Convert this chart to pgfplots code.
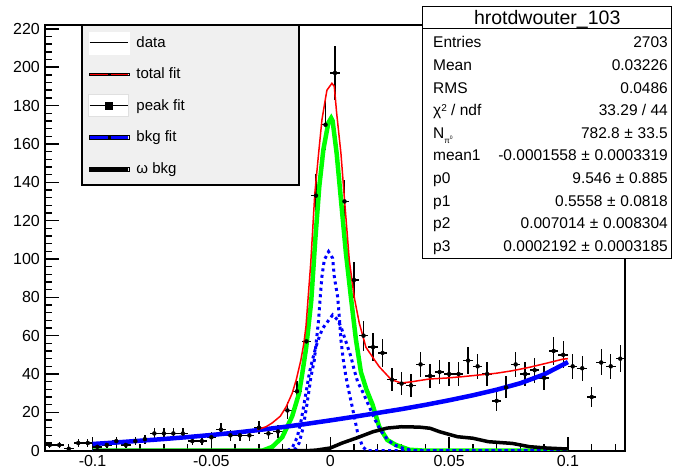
\documentclass[border=0pt]{standalone}
\usepackage{pgfplots}
\pgfplotsset{compat=1.18}
\usepackage{fontspec}
\setmainfont{Liberation Sans}
\definecolor{rootgreen}{RGB}{0,255,0}
\definecolor{legendgray}{RGB}{240,240,240}
\newcommand{\pmx}{\hspace{0.3em}±\hspace{0.3em}}
\begin{document}
\begin{tikzpicture}
\begin{axis}[
  at={(45pt,-450.7pt)}, anchor=south west,
  width=580pt, height=425.7pt, scale only axis,
  xmin=-0.12, xmax=0.124, ymin=0, ymax=222,
  axis line style={line width=1.6pt},
  xtick={-0.1,-0.05,0,0.05,0.1}, xticklabels={-0.1,-0.05,0,0.05,0.1},
  minor xtick={-0.12,-0.11,-0.09,-0.08,-0.07,-0.06,-0.04,-0.03,-0.02,-0.01,0.01,0.02,0.03,0.04,0.06,0.07,0.08,0.09,0.11,0.12},
  ytick={0,20,...,220}, minor ytick={4,8,...,220},
  xtick pos=bottom, ytick pos=left, tick align=inside,
  major tick length=14pt, minor tick length=7pt,
  tick style={line width=1.4pt, black},
  /pgf/number format/assume math mode=true,
  ticklabel style={font=\fontsize{16}{16}\selectfont},
  yticklabel style={anchor=east, inner sep=0pt, xshift=-5pt},
  xticklabel style={anchor=north, inner sep=0pt, yshift=-4.5pt},
  legend cell align=left,
  legend style={at={(0.0741,0.9953)}, anchor=north west, draw=none, fill=none,
    inner sep=0pt, outer sep=0pt, row sep=0pt, column sep=7pt,
    nodes={inner sep=0pt, minimum height=31.5pt},
    font=\fontsize{15}{17}\selectfont},
]
% data
\addplot[forget plot, only marks, mark=none,
  error bars/.cd, x dir=both, x fixed=0.002, y dir=both, y explicit,
  error mark=none, error bar style={draw=black, line width=1.4pt, solid}]
  table[x=x, y=y, y error=e] {
x y e
-0.118 3 1.73
-0.114 3 1.73
-0.110 1 1.00
-0.106 4 2.00
-0.102 4 2.00
-0.098 2 1.41
-0.094 3 1.73
-0.090 5 2.24
-0.086 3 1.73
-0.082 5 2.24
-0.078 6 2.45
-0.074 9 3.00
-0.070 9 3.00
-0.066 9 3.00
-0.062 9 3.00
-0.058 5 2.24
-0.054 5 2.24
-0.050 7 2.65
-0.046 11 3.32
-0.042 8 2.83
-0.038 8 2.83
-0.034 8 2.83
-0.030 12 3.46
-0.026 9 3.00
-0.022 10 3.16
-0.018 21 4.58
-0.014 31 5.57
-0.010 57 7.55
-0.006 133 11.53
-0.002 170 13.04
0.002 197 14.04
0.006 130 11.40
0.010 89 9.43
0.014 60 7.75
0.018 54 7.35
0.022 51 7.14
0.026 37 6.08
0.030 35 5.92
0.034 34 5.83
0.038 45 6.71
0.042 39 6.24
0.046 41 6.40
0.050 40 6.32
0.054 40 6.32
0.058 47 6.86
0.062 44 6.63
0.066 40 6.32
0.070 26 5.10
0.074 33 5.74
0.078 45 6.71
0.082 40 6.32
0.086 42 6.48
0.090 38 6.16
0.094 52 7.21
0.098 50 7.07
0.102 44 6.63
0.106 43 6.56
0.110 28 5.29
0.114 46 6.78
0.118 44 6.63
0.122 48 6.93
};
% peak fit (green)
\addplot[forget plot, rootgreen, line width=4.5pt, mark=none] coordinates {
(-0.1,0)(-0.0286,0)(-0.0244,2)(-0.0202,7)(-0.0160,18)(-0.0131,30)(-0.0118,40)(-0.0101,54)(-0.0080,78)(-0.0063,110)(-0.0046,138)(-0.0029,157)(-0.0008,171)(0.0004,173.5)(0.0010,172)(0.0027,155)(0.0045,131)(0.0066,103)(0.0087,80)(0.0108,58)(0.0129,41)(0.0152,32)(0.0178,24)(0.0206,12.5)(0.0240,5.6)(0.0276,3)(0.0333,0.5)(0.04,0)(0.1,0)};
% component A (dotted)
\addplot[forget plot, blue, line width=3pt, dash pattern=on 3pt off 3.5pt, mark=none] coordinates {
(-0.1,0)(-0.0173,0)(-0.0147,1)(-0.0131,4)(-0.0114,12)(-0.0097,25)(-0.0081,38.6)(-0.0067,47.3)(-0.0058,57.7)(-0.0049,68.2)(-0.0042,80.3)(-0.0035,90.8)(-0.0025,99.5)(-0.0007,103.8)(0.0010,100.4)(0.0017,90.8)(0.0031,80.3)(0.0038,70)(0.0045,57.7)(0.0055,47.3)(0.0066,38.6)(0.0080,30)(0.0094,22)(0.0114,10)(0.0136,2)(0.0156,0)(0.1,0)};
% component B (dotted)
\addplot[forget plot, blue, line width=3pt, dash pattern=on 3pt off 3.5pt, mark=none] coordinates {
(-0.1,0)(-0.0181,0)(-0.0160,1.5)(-0.0139,7)(-0.0122,16)(-0.0105,28)(-0.0088,40.4)(-0.0075,47.3)(-0.0060,54.3)(-0.0046,59.5)(-0.0032,63.8)(-0.0011,67.3)(0.0010,70.8)(0.0031,68.2)(0.0045,64.7)(0.0059,59.5)(0.0073,54.3)(0.0087,49)(0.0101,42)(0.0115,36)(0.0139,30)(0.0164,23)(0.0189,16)(0.0215,10)(0.0240,6)(0.0269,3)(0.0312,1)(0.0354,0)(0.1,0)};
% bkg fit (blue)
\addplot[forget plot, blue, line width=4.5pt, mark=none] coordinates {
(-0.10,3.5)(-0.09,4.3)(-0.08,5.2)(-0.07,6.1)(-0.06,7.1)(-0.05,8.2)(-0.04,9.4)(-0.03,10.8)(-0.02,12.3)(-0.01,14.0)(0,15.8)(0.01,17.7)(0.02,19.7)(0.03,21.7)(0.04,23.9)(0.05,26.3)(0.06,28.9)(0.07,31.8)(0.08,35.2)(0.09,39.8)(0.10,46.2)};
% omega bkg (black)
\addplot[forget plot, black, line width=3.5pt, mark=none] coordinates {
(-0.1,0)(-0.01,0)(-0.006,0.3)(0,1.4)(0.005,4)(0.011,6.6)(0.018,9.9)(0.024,11.8)(0.030,12.5)(0.0375,12.3)(0.042,11.7)(0.046,9.9)(0.0535,7.3)(0.060,6.5)(0.0665,4.7)(0.0766,3.8)(0.0838,2.1)(0.091,1.4)(0.0977,1.0)(0.1,0.9)};
% total fit (red)
\addplot[forget plot, red, line width=1.5pt, mark=none] coordinates {
(-0.0307,11)(-0.0270,12.5)(-0.0244,14.5)(-0.0210,18)(-0.0185,23)(-0.0160,30)(-0.0143,37)(-0.0124,47)(-0.0111,56)(-0.0102,65)(-0.0082,98)(-0.0065,134)(-0.0049,155)(-0.0035,172.5)(-0.0021,183)(-0.0014,188)(0.0007,191.6)(0.0017,190)(0.0027,176)(0.0045,155)(0.0059,132.5)(0.0080,99.5)(0.0101,80)(0.0122,66.6)(0.0150,54)(0.0177,49)(0.0206,43.8)(0.0257,37)(0.0299,35.3)(0.0345,36)(0.0417,37.4)(0.0489,37.9)(0.0556,38.6)(0.0627,39.5)(0.0699,40.4)(0.0766,41.7)(0.0838,43.5)(0.0909,45.6)(0.0977,47.7)(0.1000,48.0)};
% legend box
\draw[fill=legendgray, line width=1.2pt] (axis cs:-0.10443,222) rectangle (axis cs:-0.01314,138.56);
\draw[line width=2.2pt] (axis cs:-0.01314,222) -- (axis cs:-0.01314,138.56) -- (axis cs:-0.10443,138.56);
\addlegendimage{legend image code/.code={\fill[white] (0pt,-11pt) rectangle (40pt,11pt); \draw[black, line width=1.2pt] (1pt,0pt) -- (39pt,0pt);}}
\addlegendentry{data}
\addlegendimage{legend image code/.code={\path (0pt,-1pt) rectangle (40pt,1pt); \draw[red, line width=1.5pt] (1pt,0pt) -- (39pt,0pt); \fill[black] (19pt,-0.8pt) rectangle (21pt,0.8pt);}}
\addlegendentry{total fit}
\addlegendimage{legend image code/.code={\draw[black!12, fill=white, line width=1pt] (0pt,-11pt) rectangle (40pt,11pt); \draw[black, line width=1.2pt] (1pt,0pt) -- (39pt,0pt); \fill[black] (16.5pt,-3.5pt) rectangle (23.5pt,3.5pt);}}
\addlegendentry{peak fit}
\addlegendimage{legend image code/.code={\path (0pt,-2pt) rectangle (40pt,2pt); \draw[blue, line width=3.5pt] (1pt,0pt) -- (39pt,0pt); \fill[black] (19pt,-0.8pt) rectangle (21pt,0.8pt);}}
\addlegendentry{bkg fit}
\addlegendimage{legend image code/.code={\path (0pt,-2pt) rectangle (40pt,2pt); \draw[black, line width=3.5pt] (1pt,0pt) -- (39pt,0pt);}}
\addlegendentry{ω bkg}
\end{axis}
% stats box
\draw[fill=white, line width=1pt] (422.7pt,-6.7pt) rectangle (671.7pt,-28.3pt);
\draw[fill=white, line width=1pt] (422.7pt,-28.3pt) rectangle (671.7pt,-258pt);
\node[anchor=base, font=\fontsize{19.5}{20}\selectfont, inner sep=0pt] at (547.2pt,-24.5pt) {hrotdwouter\_103};
\begin{scope}[every node/.style={inner sep=0pt, font=\fontsize{15.5}{16}\selectfont}]
\node[anchor=base west] at (433pt,-47.8pt) {Entries};
\node[anchor=base east] at (668pt,-47.8pt) {2703};
\node[anchor=base west] at (433pt,-70.4pt) {Mean};
\node[anchor=base east] at (668pt,-70.4pt) {0.03226};
\node[anchor=base west] at (433pt,-93pt) {RMS};
\node[anchor=base east] at (668pt,-93pt) {0.0486};
\node[anchor=base west] at (433pt,-115.6pt) {χ\raisebox{0.55ex}{\fontsize{10}{10}\selectfont 2} / ndf};
\node[anchor=base east] at (668pt,-115.6pt) {33.29 / 44};
\node[anchor=base west] at (433pt,-138.2pt) {N\raisebox{-0.6ex}{\fontsize{8}{8}\selectfont π\raisebox{0.8ex}{\fontsize{5}{5}\selectfont 0}}};
\node[anchor=base east] at (668pt,-138.2pt) {782.8\pmx 33.5};
\node[anchor=base west] at (433pt,-160.8pt) {mean1};
\node[anchor=base east] at (668pt,-160.8pt) {-0.0001558\pmx 0.0003319};
\node[anchor=base west] at (433pt,-183.4pt) {p0};
\node[anchor=base east] at (668pt,-183.4pt) {9.546\pmx 0.885};
\node[anchor=base west] at (433pt,-206pt) {p1};
\node[anchor=base east] at (668pt,-206pt) {0.5558\pmx 0.0818};
\node[anchor=base west] at (433pt,-228.6pt) {p2};
\node[anchor=base east] at (668pt,-228.6pt) {0.007014\pmx 0.008304};
\node[anchor=base west] at (433pt,-251.2pt) {p3};
\node[anchor=base east] at (668pt,-251.2pt) {0.0002192\pmx 0.0003185};
\end{scope}
\pgfresetboundingbox
\useasboundingbox (0pt,0pt) rectangle (679pt,-471pt);
\end{tikzpicture}
\end{document}
